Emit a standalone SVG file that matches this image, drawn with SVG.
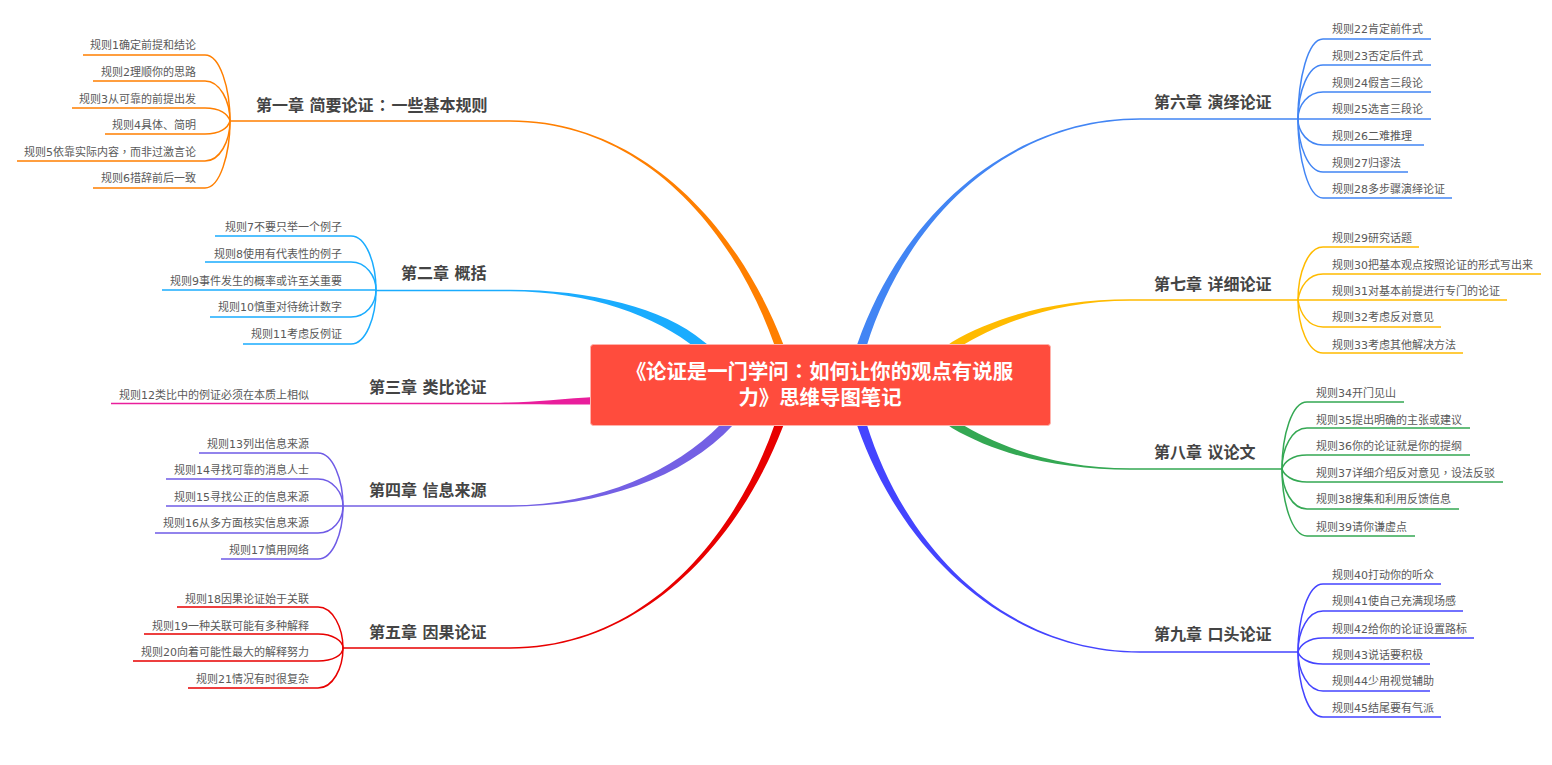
<svg xmlns="http://www.w3.org/2000/svg" width="1552" height="765" viewBox="0 0 1552 765">
<style>
text{font-family:"DejaVu Sans","Noto Sans CJK SC",sans-serif}
.r{font-size:11px;fill:#595959;text-anchor:end;transform:translateY(.5px)}
.l{font-size:11px;fill:#595959;text-anchor:start;transform:translateY(.5px)}
.t{font-size:16px;font-weight:700;fill:#444}
.root{font-size:20.400px;font-weight:700;fill:#fff}
.p{font-family:"Noto Sans CJK TC",sans-serif}
.c{fill:none;stroke-width:1.5}
</style>
<rect width="1552" height="765" fill="#fff"/>
<g id="connectors">
<path fill="#FF7F00" d="M230,120.300H510C640,120.300 737,224 783,343.500L797,385H787L775,346.500C733,226 640,121.700 510,121.700H230Z"/>
<path fill="#1AACFE" d="M376,289.800H510C590,289.800 664,308 703,341L725,358L708,365L697,349C656,316 590,291.200 510,291.200H376Z"/>
<path fill="#E91E9C" d="M111,402.700H500C530,402.700 560,399 600,396.500V404.500C560,404.500 530,404.200 500,404.200H111Z"/>
<path fill="#7460E4" d="M343,505.300H510C600,505.300 676,470 720,425L735,408H750L733,425C684,478 600,506.700 510,506.700H343Z"/>
<path fill="#E80000" d="M343,647.300H510C640,647.300 733,544 775,423.500L787,385H797L783,426.500C737,546 640,648.700 510,648.700H343Z"/>
<path fill="#4285F4" d="M1298,118.300H1140C1010,118.300 903,214 857.500,343.500L845,385H855L866.500,346.500C907,216 1010,119.700 1140,119.700H1298Z"/>
<path fill="#FFBB00" d="M1298,299.300H1130C1060,299.300 998,315 952,342L930,358L945,365L958,348C1002,321 1060,300.700 1130,300.700H1298Z"/>
<path fill="#34A853" d="M1282,468.300H1130C1060,468.300 1002,449 958,422L945,405L930,412L952,428C998,455 1060,469.700 1130,469.700H1282Z"/>
<path fill="#4444FF" d="M1298,651.300H1140C1010,651.300 907,554 866.500,423.500L855,385H845L857.500,426.500C903,556 1010,652.700 1140,652.700H1298Z"/>
<g class="c" stroke="#FF7F00">
<path d="M230,121C230,88 220,55 205,55H83"/>
<path d="M230,121C230,101 220,81 205,81H93"/>
<path d="M230,121C228,114 220,108 205,108H72"/>
<path d="M230,121C228,128 220,134 205,134H105"/>
<path d="M230,121C230,141 220,161 205,161H17"/>
<path d="M230,121C230,154 220,188 205,188H93"/>
</g>
<g class="c" stroke="#1AACFE">
<path d="M376,290C376,263 366,236 351,236H215"/>
<path d="M376,290C376,276 366,262 351,262H205"/>
<path d="M376,290H162"/>
<path d="M376,290C376,304 366,317 351,317H210"/>
<path d="M376,290C376,317 366,344 351,344H243"/>
</g>
<g class="c" stroke="#6F5BE6">
<path d="M343,506C343,480 333,453 318,453H199"/>
<path d="M343,506C343,493 333,479 318,479H166"/>
<path d="M343,506H166"/>
<path d="M343,506C343,520 333,533 318,533H155"/>
<path d="M343,506C343,533 333,559 318,559H221"/>
</g>
<g class="c" stroke="#E80000">
<path d="M343,648C343,628 333,607 318,607H177"/>
<path d="M343,648C343,641 333,634 318,634H144"/>
<path d="M343,648C343,655 333,661 318,661H133"/>
<path d="M343,648C343,668 333,688 318,688H188"/>
</g>
<g class="c" stroke="#4285F4">
<path d="M1298,119C1298,79 1308,39 1323,39H1431"/>
<path d="M1298,119C1298,92 1308,65 1323,65H1431"/>
<path d="M1298,119C1298,105 1308,92 1323,92H1431"/>
<path d="M1298,119H1431"/>
<path d="M1298,119C1298,132 1308,145 1323,145H1424"/>
<path d="M1298,119C1298,145 1308,172 1323,172H1408"/>
<path d="M1298,119C1298,158 1308,198 1323,198H1452"/>
</g>
<g class="c" stroke="#FFBB00">
<path d="M1298,300C1298,273 1308,247 1323,247H1419"/>
<path d="M1298,300C1300,287 1308,274 1323,274H1541"/>
<path d="M1298,300H1507"/>
<path d="M1298,300C1300,313 1308,327 1323,327H1441"/>
<path d="M1298,300C1298,326 1308,353 1323,353H1463"/>
</g>
<g class="c" stroke="#34A853">
<path d="M1282,469C1282,435 1292,402 1307,402H1404"/>
<path d="M1282,469C1282,448 1292,428 1307,428H1470"/>
<path d="M1282,469C1284,462 1292,455 1307,455H1470"/>
<path d="M1282,469C1284,475 1292,482 1307,482H1503"/>
<path d="M1282,469C1282,489 1292,509 1307,509H1459"/>
<path d="M1282,469C1282,502 1292,536 1307,536H1415"/>
</g>
<g class="c" stroke="#4444FF">
<path d="M1298,652C1298,618 1308,584 1323,584H1441"/>
<path d="M1298,652C1298,631 1308,611 1323,611H1463"/>
<path d="M1298,652C1300,645 1308,638 1323,638H1474"/>
<path d="M1298,652C1300,658 1308,664 1323,664H1430"/>
<path d="M1298,652C1298,671 1308,691 1323,691H1430"/>
<path d="M1298,652C1298,685 1308,717 1323,717H1441"/>
</g>
</g>
<g id="root"><rect x="590.500" y="344.500" width="460" height="81" rx="3" fill="#FF4C3D" stroke="#FFB3AC" stroke-width="1"/>
<text class="root" x="626" y="379">《<tspan x="646">论证是一门学问</tspan><tspan class="p">：</tspan>如何让你的观点有说服</text>
<text class="root" x="820" y="405" text-anchor="middle">力》思维导图笔记</text></g>
<g id="ch1"><text class="t" x="256" y="111">第一章 简要论证<tspan class="p" dx="1">：</tspan><tspan dx="1">一些基本规则</tspan></text></g>
<g id="ch2"><text class="t" x="401" y="279">第二章 概括</text></g>
<g id="ch3"><text class="t" x="369" y="393">第三章 类比论证</text></g>
<g id="ch4"><text class="t" x="369" y="496">第四章 信息来源</text></g>
<g id="ch5"><text class="t" x="369" y="638">第五章 因果论证</text></g>
<g id="ch6"><text class="t" x="1154" y="108">第六章 演绎论证</text></g>
<g id="ch7"><text class="t" x="1154" y="290">第七章 详细论证</text></g>
<g id="ch8"><text class="t" x="1154" y="458">第八章 议论文</text></g>
<g id="ch9"><text class="t" x="1154" y="640">第九章 口头论证</text></g>
<g id="r1"><text class="r" x="196" y="48">规则1确定前提和结论</text></g>
<g id="r2"><text class="r" x="196" y="75">规则2理顺你的思路</text></g>
<g id="r3"><text class="r" x="196" y="102">规则3从可靠的前提出发</text></g>
<g id="r4"><text class="r" x="196" y="128">规则4具体、简明</text></g>
<g id="r5"><text class="r" x="196" y="155">规则5依靠实际内容<tspan class="p">，</tspan>而非过激言论</text></g>
<g id="r6"><text class="r" x="196" y="181">规则6措辞前后一致</text></g>
<g id="r7"><text class="r" x="342" y="230">规则7不要只举一个例子</text></g>
<g id="r8"><text class="r" x="342" y="257">规则8使用有代表性的例子</text></g>
<g id="r9"><text class="r" x="342" y="284">规则9事件发生的概率或许至关重要</text></g>
<g id="r10"><text class="r" x="342" y="310">规则10慎重对待统计数字</text></g>
<g id="r11"><text class="r" x="342" y="337">规则11考虑反例证</text></g>
<g id="r12"><text class="r" x="309" y="398">规则12类比中的例证必须在本质上相似</text></g>
<g id="r13"><text class="r" x="309" y="447">规则13列出信息来源</text></g>
<g id="r14"><text class="r" x="309" y="473">规则14寻找可靠的消息人士</text></g>
<g id="r15"><text class="r" x="309" y="500">规则15寻找公正的信息来源</text></g>
<g id="r16"><text class="r" x="309" y="526">规则16从多方面核实信息来源</text></g>
<g id="r17"><text class="r" x="309" y="553">规则17慎用网络</text></g>
<g id="r18"><text class="r" x="309" y="602">规则18因果论证始于关联</text></g>
<g id="r19"><text class="r" x="309" y="629">规则19一种关联可能有多种解释</text></g>
<g id="r20"><text class="r" x="309" y="655">规则20向着可能性最大的解释努力</text></g>
<g id="r21"><text class="r" x="309" y="682">规则21情况有时很复杂</text></g>
<g id="r22"><text class="l" x="1332" y="32">规则22肯定前件式</text></g>
<g id="r23"><text class="l" x="1332" y="59">规则23否定后件式</text></g>
<g id="r24"><text class="l" x="1332" y="86">规则24假言三段论</text></g>
<g id="r25"><text class="l" x="1332" y="112">规则25选言三段论</text></g>
<g id="r26"><text class="l" x="1332" y="139">规则26二难推理</text></g>
<g id="r27"><text class="l" x="1332" y="166">规则27归谬法</text></g>
<g id="r28"><text class="l" x="1332" y="192">规则28多步骤演绎论证</text></g>
<g id="r29"><text class="l" x="1332" y="241">规则29研究话题</text></g>
<g id="r30"><text class="l" x="1332" y="268">规则30把基本观点按照论证的形式写出来</text></g>
<g id="r31"><text class="l" x="1332" y="294">规则31对基本前提进行专门的论证</text></g>
<g id="r32"><text class="l" x="1332" y="320">规则32考虑反对意见</text></g>
<g id="r33"><text class="l" x="1332" y="348">规则33考虑其他解决方法</text></g>
<g id="r34"><text class="l" x="1316" y="396">规则34开门见山</text></g>
<g id="r35"><text class="l" x="1316" y="423">规则35提出明确的主张或建议</text></g>
<g id="r36"><text class="l" x="1316" y="449">规则36你的论证就是你的提纲</text></g>
<g id="r37"><text class="l" x="1316" y="476">规则37详细介绍反对意见<tspan class="p">，</tspan>设法反驳</text></g>
<g id="r38"><text class="l" x="1316" y="502">规则38搜集和利用反馈信息</text></g>
<g id="r39"><text class="l" x="1316" y="530">规则39请你谦虚点</text></g>
<g id="r40"><text class="l" x="1332" y="578">规则40打动你的听众</text></g>
<g id="r41"><text class="l" x="1332" y="604">规则41使自己充满现场感</text></g>
<g id="r42"><text class="l" x="1332" y="632">规则42给你的论证设置路标</text></g>
<g id="r43"><text class="l" x="1332" y="658">规则43说话要积极</text></g>
<g id="r44"><text class="l" x="1332" y="684">规则44少用视觉辅助</text></g>
<g id="r45"><text class="l" x="1332" y="711">规则45结尾要有气派</text></g>
</svg>
